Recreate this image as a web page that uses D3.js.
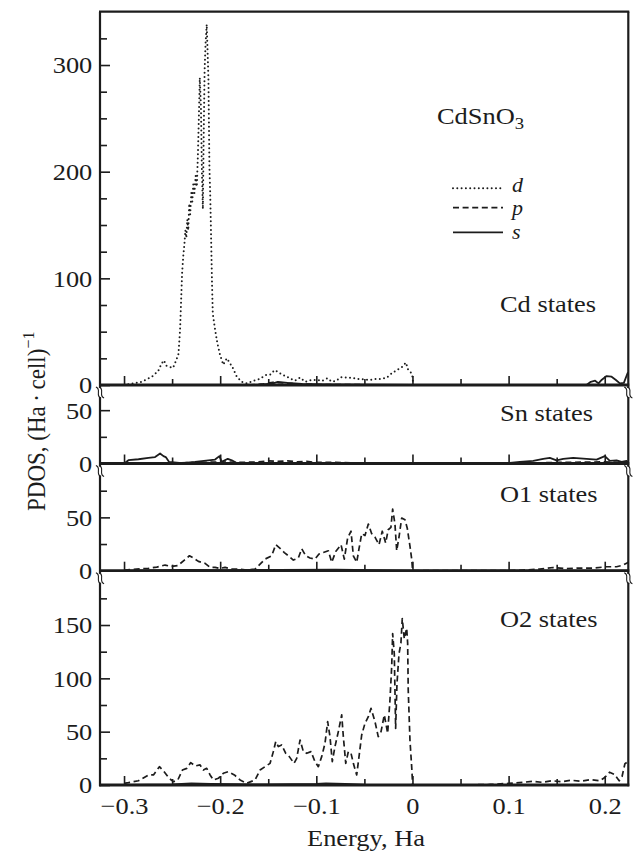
<!DOCTYPE html>
<html><head><meta charset="utf-8">
<script src="https://cdn.jsdelivr.net/npm/d3@7"></script>
<style>
html,body{margin:0;padding:0;background:#fff}
svg text{font-family:"Liberation Serif","Times New Roman",Times,serif !important;}
</style>
</head><body>
<svg id="c" width="635" height="855"></svg>
<script>
// ---------- DATA (energy in Ha, PDOS value) ----------
const xMajorTicks = [-0.3, -0.2, -0.1, 0, 0.1, 0.2];
const xMinorTicks = [-0.25, -0.15, -0.05, 0.05, 0.15];
const panelNames = ["Cd states", "Sn states", "O1 states", "O2 states"];
const cdYLabels = [0, 100, 200, 300];
const snYLabels = [0, 50];
const o1YLabels = [0, 50];
const o2YLabels = [0, 50, 100, 150];
const legendNames = ["d", "p", "s"];

const cdD = [[-0.300,0],[-0.290,1.5],[-0.282,3],[-0.275,6],[-0.269,9],[-0.264,14],[-0.261,20],[-0.2585,23],[-0.256,18],[-0.2525,17],[-0.249,16],[-0.2458,23],[-0.2434,29],[-0.2417,52],[-0.2406,80],[-0.2396,105],[-0.2383,122],[-0.2372,132],[-0.2362,145],[-0.2352,138],[-0.2342,155],[-0.2332,145],[-0.2322,170],[-0.2312,160],[-0.2300,180],[-0.2290,172],[-0.2280,188],[-0.2268,180],[-0.2255,196],[-0.2243,186],[-0.2232,215],[-0.2222,250],[-0.2212,288],[-0.2200,260],[-0.2190,200],[-0.2180,165],[-0.2172,230],[-0.2162,295],[-0.2152,320],[-0.2140,338],[-0.2130,310],[-0.2122,286],[-0.2112,205],[-0.2104,180],[-0.2098,155],[-0.2092,127],[-0.2085,96],[-0.2077,67],[-0.2053,52],[-0.2029,39],[-0.2001,28],[-0.1967,19],[-0.1931,25],[-0.1895,20],[-0.1869,16],[-0.1828,8],[-0.1776,3],[-0.1724,1.5],[-0.1655,4],[-0.1592,5.6],[-0.1523,9.4],[-0.1474,10],[-0.1436,14],[-0.1401,12.5],[-0.1360,10],[-0.1308,7.8],[-0.1256,5.3],[-0.1221,4],[-0.1169,6.9],[-0.1117,3],[-0.1048,4.7],[-0.0985,4.7],[-0.0944,3.7],[-0.0885,6.3],[-0.0840,3],[-0.0798,3.7],[-0.0746,7.2],[-0.0684,6.9],[-0.0632,6.9],[-0.0574,5.6],[-0.0528,5.6],[-0.0449,4.7],[-0.0390,5.6],[-0.0327,5.6],[-0.0268,6.9],[-0.0216,10.9],[-0.0164,14],[-0.0112,16.6],[-0.0068,21],[-0.0044,14],[-0.0016,11.6],[0.0000,7.8],[0.0008,0]];
const cdP = [[-0.300,0],[-0.170,0],[-0.155,1],[-0.145,2.5],[-0.135,2],[-0.120,1],[-0.100,0.5],[0.000,0],[0.2245,0]];
const cdS = [[-0.300,0],[-0.160,0],[-0.145,1.5],[-0.140,3],[-0.130,2],[-0.115,1],[-0.090,0.5],[0.000,0],[0.170,0],[0.181,0],[0.1855,3],[0.190,4],[0.1935,1.5],[0.197,5],[0.2019,8.4],[0.2071,7.8],[0.2116,4.7],[0.2157,1.5],[0.2199,2],[0.2237,11],[0.2245,12]];

const snS = [[-0.2998,0],[-0.2954,3.1],[-0.285,4],[-0.2746,5.3],[-0.2677,6],[-0.2625,9.4],[-0.259,6.9],[-0.2566,6],[-0.2531,1.5],[-0.240,0.3],[-0.2261,1.5],[-0.2123,3],[-0.2053,3.7],[-0.2008,6.9],[-0.1984,1.5],[-0.1921,4.4],[-0.1879,3],[-0.1828,0.5],[-0.160,0.3],[-0.120,0.5],[-0.080,0.3],[0.000,0],[0.1013,0.5],[0.1117,1.5],[0.1256,2.5],[0.136,4.4],[0.1429,5.3],[0.1499,3],[0.1568,4.4],[0.1672,5.3],[0.1811,4.4],[0.1915,3.7],[0.2001,6.9],[0.2053,2.5],[0.2123,3],[0.2175,1.5],[0.2227,2.5],[0.2245,1]];
const snP = [[-0.300,0],[-0.250,0.5],[-0.220,1],[-0.200,1.5],[-0.180,1],[-0.160,1.5],[-0.150,2.5],[-0.140,2],[-0.130,2.5],[-0.120,1.5],[-0.110,2],[-0.100,1],[-0.080,1],[-0.060,0.5],[0.000,0],[0.100,0],[0.150,1],[0.200,1.5],[0.2245,1]];

const o1P = [[-0.2999,0.6],[-0.292,1],[-0.2815,2],[-0.2746,2.2],[-0.2659,3.4],[-0.2573,5.3],[-0.251,4],[-0.2441,4.7],[-0.2372,10],[-0.232,14],[-0.2279,11.9],[-0.2227,8.7],[-0.2157,6.9],[-0.2105,3.1],[-0.2053,3.1],[-0.2001,2.2],[-0.1949,3.1],[-0.1879,1.6],[-0.181,1.6],[-0.1724,0.6],[-0.1637,1.6],[-0.1585,6.2],[-0.1533,10.9],[-0.1464,14],[-0.1422,24.4],[-0.1377,21],[-0.1333,17],[-0.1291,14],[-0.1239,10],[-0.1187,11.9],[-0.1152,20.6],[-0.111,14],[-0.1066,11.9],[-0.1014,10.9],[-0.0972,15.6],[-0.0927,17],[-0.0875,18.7],[-0.084,7.8],[-0.0798,18],[-0.0743,24.4],[-0.0709,10.9],[-0.0674,30.9],[-0.0639,37],[-0.0615,14],[-0.058,7.8],[-0.0556,20.6],[-0.0528,34.7],[-0.0494,33],[-0.0459,43.7],[-0.0424,34.7],[-0.039,31.5],[-0.0348,24.4],[-0.0314,37],[-0.0279,26],[-0.0252,38.4],[-0.0224,40.6],[-0.0206,57.8],[-0.0182,43.7],[-0.0164,18.7],[-0.014,31.5],[-0.0112,49.4],[-0.0078,47.8],[-0.0054,39.8],[-0.0026,23],[-0.0008,10.9],[0.0002,0],[0.100,0],[0.115,0.6],[0.1325,1.5],[0.1464,3],[0.1603,1.9],[0.1741,2.5],[0.188,2.5],[0.2019,3.7],[0.2123,3.7],[0.2192,5.3],[0.2227,7],[0.2245,8]];
const o1S = [[-0.300,0],[-0.240,0.8],[-0.200,0.4],[-0.140,0.8],[-0.080,1],[-0.040,0.6],[0.000,0],[0.2245,0]];

const o2P = [[-0.2999,1.6],[-0.2954,2.2],[-0.285,4],[-0.2746,9.4],[-0.2694,9.4],[-0.2632,17.2],[-0.2583,12.5],[-0.2531,6.3],[-0.2486,3.1],[-0.2441,4.7],[-0.2393,14],[-0.2347,15.6],[-0.2306,21],[-0.2261,17.8],[-0.2209,18.8],[-0.2175,14],[-0.214,15.6],[-0.2105,9.4],[-0.2071,4.7],[-0.2019,6.3],[-0.1967,11],[-0.1915,12.5],[-0.1852,9.4],[-0.1793,4.7],[-0.1724,1.6],[-0.1637,4.7],[-0.1585,14],[-0.1533,17.2],[-0.1481,20.3],[-0.1447,31.3],[-0.1422,40.7],[-0.1395,36],[-0.136,37.5],[-0.1318,29.7],[-0.1281,26.6],[-0.1232,20.3],[-0.1204,25],[-0.1169,42.2],[-0.1135,31.3],[-0.11,29.7],[-0.1055,31.3],[-0.1014,21.9],[-0.0979,17.2],[-0.0944,26.6],[-0.091,39],[-0.0882,59.4],[-0.0858,45.4],[-0.0834,21.9],[-0.0806,35.9],[-0.0771,50],[-0.0736,65.7],[-0.0719,45.4],[-0.0694,20.3],[-0.0667,31.3],[-0.0639,29.7],[-0.0615,20.3],[-0.058,9.4],[-0.0556,26.6],[-0.0528,46.9],[-0.0494,57.8],[-0.0459,64],[-0.0431,71.9],[-0.039,59.4],[-0.0356,45.4],[-0.0327,50],[-0.0293,65.7],[-0.0258,48.5],[-0.0234,79.7],[-0.0216,111],[-0.0206,142],[-0.0189,123],[-0.0175,53],[-0.0161,95],[-0.014,123],[-0.012,133],[-0.0106,156],[-0.0085,137],[-0.006,147],[-0.005,133],[-0.0044,89],[-0.0026,42],[-0.0008,17],[0.0002,0],[0.050,0],[0.080,0.5],[0.100,1.5],[0.115,2.5],[0.125,3.5],[0.135,2.5],[0.145,4],[0.155,3],[0.165,4.5],[0.175,3.5],[0.185,5],[0.195,4],[0.200,7],[0.205,12],[0.210,10],[0.215,4],[0.218,8],[0.221,20],[0.2245,22]];
const o2S = [[-0.300,0],[-0.250,0.5],[-0.230,1.5],[-0.210,1],[-0.150,0.5],[-0.100,1],[-0.090,1.5],[-0.070,1],[-0.050,0.3],[0.000,0],[0.2245,0]];

// ---------- LAYOUT ----------
const svg = d3.select("#c");
const FONT = '"Liberation Serif","Times New Roman",Times,serif';
const INK = "#1c1c1c";
const SX = 1.1; // horizontal stretch of the reference's lettering
const plotL = 100, plotR = 628.3, plotT = 11.7;
const pxPerUnit = 1.0666;
const x = d3.scaleLinear().domain([-0.325, 0.2245]).range([plotL, plotR]);

const panels = [
  {name: panelNames[0], base: 385,   topY: plotT, labels: cdYLabels, curves: [[cdD,"d"],[cdP,"p"],[cdS,"s"]], ny: 311.7},
  {name: panelNames[1], base: 463.5, topY: 388,   labels: snYLabels, curves: [[snP,"p"],[snS,"s"]], ny: 420.7},
  {name: panelNames[2], base: 570.7, topY: 467,   labels: o1YLabels, curves: [[o1S,"s"],[o1P,"p"]], ny: 501.7},
  {name: panelNames[3], base: 785,   topY: 574,   labels: o2YLabels, curves: [[o2S,"s"],[o2P,"p"]], ny: 627}
];

const styles = {
  d: {w: 2.0, dash: "0,4.3", cap: "round"},
  p: {w: 1.7, dash: "6,3.6", cap: "butt"},
  s: {w: 1.8, dash: null, cap: "butt"}
};

function styleLine(sel, k) {
  const s = styles[k];
  sel.attr("fill", "none").attr("stroke", INK).attr("stroke-width", s.w)
     .attr("stroke-linecap", s.cap).attr("stroke-linejoin", "round");
  if (s.dash) sel.attr("stroke-dasharray", s.dash);
  return sel;
}

function txt(x0, y0, str, size, anchor, italic) {
  return svg.append("text")
    .attr("transform", `translate(${x0},${y0}) scale(${SX},1)`)
    .style("font-family", FONT).style("font-size", size + "px")
    .style("font-style", italic ? "italic" : "normal")
    .attr("text-anchor", anchor || "start").attr("fill", INK).text(str);
}

svg.append("defs").append("clipPath").attr("id", "clipAll")
  .append("rect").attr("x", plotL).attr("y", 0).attr("width", plotR - plotL).attr("height", 855);

panels.forEach((p, i) => {
  const maxV = (p.base - p.topY) / pxPerUnit;
  const y = d3.scaleLinear().domain([0, maxV]).range([p.base, p.topY]);
  const line = d3.line().x(d => x(d[0])).y(d => y(d[1]));
  const g = svg.append("g").attr("clip-path", "url(#clipAll)");
  p.curves.forEach(([data, k]) => {
    styleLine(g.append("path").attr("d", line(data)), k);
  });

  // y ticks (inward)
  const allTicks = d3.range(25, maxV, 25);
  const minor = allTicks.filter(v => !p.labels.includes(v));
  const ayMinor = d3.axisLeft(y).tickValues(minor).tickSize(-7).tickFormat("");
  const ayMajor = d3.axisLeft(y).tickValues(p.labels).tickSize(-10).tickPadding(7).tickFormat(d3.format("d"));
  [ayMinor, ayMajor].forEach(ax => {
    const ga = svg.append("g").attr("transform", `translate(${plotL},0)`).call(ax);
    ga.attr("font-family", null).attr("font-size", null);
    ga.select(".domain").remove();
    ga.selectAll("line").attr("stroke", INK).attr("stroke-width", 1.6);
    ga.selectAll("text").style("font-family", FONT).style("font-size", "24px").attr("fill", INK)
      .attr("transform", `scale(${SX},1)`).attr("dy", "0.33em");
  });

  // x ticks (inward) on each panel baseline
  const isBottom = i === panels.length - 1;
  const fmt = d => d === 0 ? "0" : d3.format(".1f")(d).replace("-", "\u2013");
  const axMinor = d3.axisBottom(x).tickValues(xMinorTicks).tickSize(-6).tickFormat("");
  const axMajor = d3.axisBottom(x).tickValues(xMajorTicks).tickSize(-9).tickPadding(12)
                   .tickFormat(isBottom ? fmt : "");
  [axMinor, axMajor].forEach(ax => {
    const ga = svg.append("g").attr("transform", `translate(0,${p.base})`).call(ax);
    ga.attr("font-family", null).attr("font-size", null);
    ga.select(".domain").remove();
    ga.selectAll("line").attr("stroke", INK).attr("stroke-width", 1.6);
    ga.selectAll("text").style("font-family", FONT).style("font-size", "24px").attr("fill", INK)
      .attr("transform", `scale(${SX},1)`);
  });

  // baseline
  svg.append("line").attr("x1", plotL - 1).attr("x2", plotR + 1).attr("y1", p.base).attr("y2", p.base)
     .attr("stroke", INK).attr("stroke-width", 2.8);

  // panel name
  txt(500, p.ny, p.name, 24, "start", false);
});

// frame: left axis, right border, top line
svg.append("line").attr("x1", plotL).attr("x2", plotL).attr("y1", plotT).attr("y2", 786.3)
   .attr("stroke", INK).attr("stroke-width", 2.2);
svg.append("line").attr("x1", plotR).attr("x2", plotR).attr("y1", plotT).attr("y2", 786.3)
   .attr("stroke", INK).attr("stroke-width", 2.2);
svg.append("line").attr("x1", plotL - 1).attr("x2", plotR + 1).attr("y1", plotT).attr("y2", plotT)
   .attr("stroke", INK).attr("stroke-width", 2.2);

// axis break marks below the upper three baselines
panels.slice(0, 3).forEach(p => {
  [plotL, plotR].forEach(cx => {
    const cy = p.base + 7.5;
    svg.append("rect").attr("x", cx - 3).attr("y", cy - 4.5).attr("width", 6).attr("height", 9).attr("fill", "#fff");
    [-1.6, 1.6].forEach(off => {
      const c = cx + off;
      svg.append("path")
        .attr("d", `M${c - 2.5},${cy - 5.5} C${c + 3.5},${cy - 3.5} ${c - 3.5},${cy + 3.5} ${c + 2.5},${cy + 5.5}`)
        .attr("fill", "none").attr("stroke", INK).attr("stroke-width", 1.1);
    });
  });
});

// compound label and legend
const t = txt(437, 123.5, "CdSnO", 24, "start", false);
t.append("tspan").style("font-size", "17px").attr("dy", 5).text("3");
const legY = [188.3, 207.7, 232.3];
const legLabY = [191.5, 214.5, 239];
legendNames.forEach((k, i) => {
  styleLine(svg.append("path").attr("d", d3.line()([[453, legY[i]], [503, legY[i]]])), k);
  txt(512, legLabY[i], k, 20, "start", true);
});

// axis titles
txt(366, 846, "Energy, Ha", 24, "middle", false);
const yt = svg.append("text")
  .attr("transform", `translate(45,511) scale(${SX},1) rotate(-90)`)
  .style("font-family", FONT).style("font-size", "23px").attr("fill", INK)
  .text("PDOS, (Ha\u2009\u00B7\u2009cell)");
yt.append("tspan").style("font-size", "16px").attr("dy", -10).text("\u22121");
</script>
</body></html>
